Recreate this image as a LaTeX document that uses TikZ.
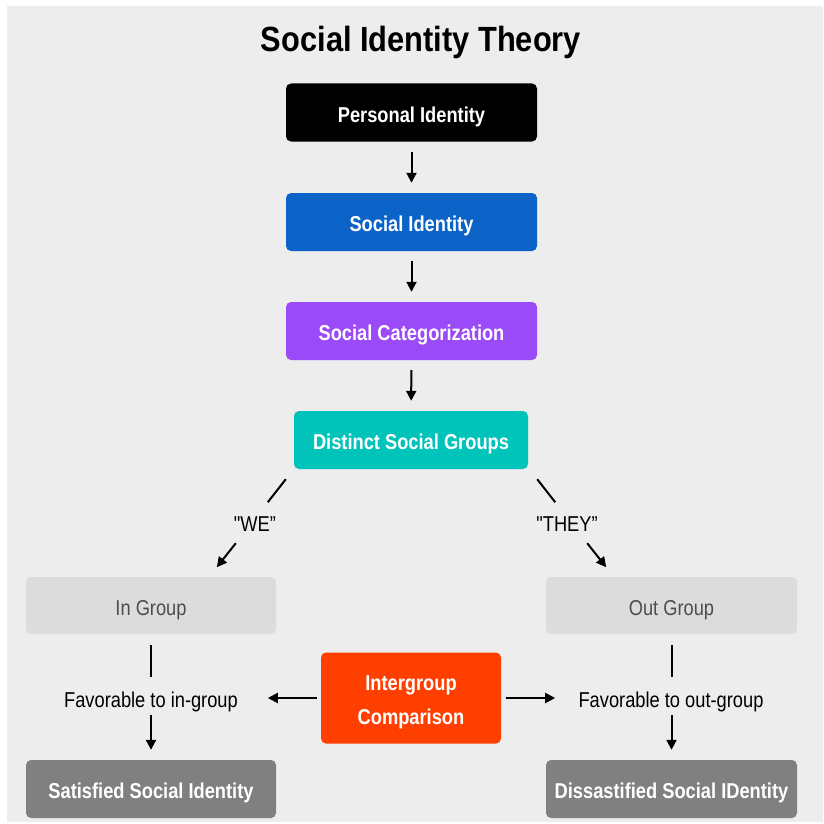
\documentclass[tikz,border=0pt]{standalone}
\usepackage{fontspec}
\setmainfont{Liberation Sans}[FakeStretch=0.85]
\newfontfamily\titlefont{Liberation Sans}[FakeStretch=0.88]
\newfontfamily\qfont{Liberation Sans}[FakeStretch=0.85]
\usetikzlibrary{arrows.meta}
\definecolor{bgc}{HTML}{EDEDED}
\definecolor{bluec}{HTML}{0B63C8}
\definecolor{purplec}{HTML}{9A4AF6}
\definecolor{tealc}{HTML}{00C4BA}
\definecolor{lgray}{HTML}{DCDCDC}
\definecolor{lgtext}{HTML}{4D4D4D}
\definecolor{dgray}{HTML}{808080}
\definecolor{orangec}{HTML}{FF3F00}
\tikzset{
  box/.style={rounded corners=5pt, inner sep=0pt, minimum width=251pt, minimum height=58pt,
    font=\fontsize{21.5}{24}\selectfont\bfseries, text=white, text height=19pt, text depth=0pt},
  graybox/.style={box, fill=lgray, text=lgtext, font=\fontsize{21.5}{24}\selectfont},
  lbl/.style={inner sep=0pt, font=\fontsize{21.5}{24}\selectfont, text=black, text height=19pt, text depth=0pt},
  conn/.style={line width=2pt, black},
  arr/.style={conn, -{Triangle[length=10pt,width=10pt]}},
}
\begin{document}
\begin{tikzpicture}[x=1pt,y=-1pt]
\useasboundingbox (0,0) rectangle (823,824);
\fill[white] (0,0) rectangle (823,824);
\fill[bgc] (7,6) rectangle (823,822);

\node[inner sep=0pt, font=\titlefont\fontsize{35}{40}\selectfont\bfseries] (title) at (421,42) {Social Identity Theory};

\node[box, fill=black] (personal) at (411.5,112.5) {Personal Identity};
\node[box, fill=bluec] (social) at (411.5,222) {Social Identity};
\node[box, fill=purplec] (categ) at (411.5,331) {Social Categorization};
\node[box, fill=tealc, minimum width=234pt] (distinct) at (411,440) {Distinct Social Groups};

\draw[arr, shorten <=10pt, shorten >=10pt] (personal) -- (social);
\draw[arr, shorten <=10pt, shorten >=10pt] (social) -- (categ);
\draw[arr, shorten <=10pt, shorten >=10pt] (categ) -- (distinct);

\node[graybox, minimum width=250pt, minimum height=57pt] (ingroup) at (151,605.5) {In Group};
\node[graybox, minimum height=57pt] (outgroup) at (671.5,605.5) {Out Group};

\node[lbl, font=\qfont\fontsize{21.5}{24}\selectfont] (we) at (255,522) {"WE”};
\node[lbl, font=\qfont\fontsize{21.5}{24}\selectfont] (they) at (567,522) {"THEY”};

\draw[conn] ([shift={(-8,10)}]distinct.south west) -- ([shift={(-26,33)}]distinct.south west);
\draw[arr] ([shift={(-58,74)}]distinct.south west) -- ([shift={(-77,98)}]distinct.south west);
\draw[conn] ([shift={(9,10)}]distinct.south east) -- ([shift={(27,33)}]distinct.south east);
\draw[arr] ([shift={(59,74)}]distinct.south east) -- ([shift={(78,98)}]distinct.south east);

\node[box, fill=orangec, minimum width=180pt, minimum height=91pt, text height=52pt, text depth=0pt] (inter) at (411,698) {\shortstack{Intergroup\\[10pt]Comparison}};

\node[lbl] (favin) at (151,697.5) {Favorable to in-group};
\node[lbl] (favout) at (671,697.5) {Favorable to out-group};

\node[box, fill=dgray, minimum width=250pt] (satisfied) at (151,789) {Satisfied Social Identity};
\node[box, fill=dgray] (dissat) at (671.5,789) {Dissastified Social IDentity};

\draw[conn] ([yshift=-11pt]ingroup.south) -- ([yshift=-43pt]ingroup.south);
\draw[arr] ([yshift=45pt]satisfied.north) -- ([yshift=10pt]satisfied.north);
\draw[conn] ([yshift=-11pt]outgroup.south) -- ([yshift=-43pt]outgroup.south);
\draw[arr] ([yshift=45pt]dissat.north) -- ([yshift=10pt]dissat.north);

\draw[arr] ([xshift=-4pt]inter.west) -- ([xshift=-53pt]inter.west);
\draw[arr] ([xshift=5pt]inter.east) -- ([xshift=54pt]inter.east);
\end{tikzpicture}
\end{document}
